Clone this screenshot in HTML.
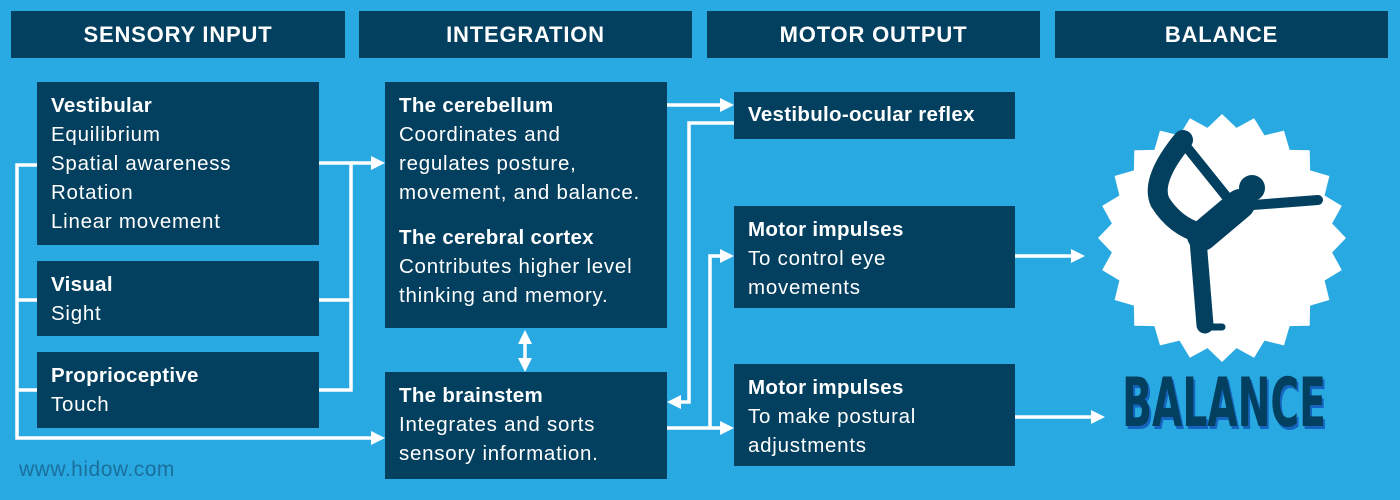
<!DOCTYPE html>
<html><head><meta charset="utf-8"><style>
*{margin:0;padding:0;box-sizing:border-box}
body{width:1400px;height:500px;background:#29a9e1;position:relative;overflow:hidden;font-family:"Liberation Sans",sans-serif;color:#fff}
.h{position:absolute;top:11px;height:47px;background:#03405f;font-weight:bold;font-size:22px;text-align:center;line-height:47px;letter-spacing:.8px}
.b{position:absolute;background:#03405f;padding:9px 14px;font-size:20.5px;line-height:29px;letter-spacing:.75px}
.b b{display:block;letter-spacing:.3px}
</style></head><body>
<div class="h" style="left:11px;width:334px">SENSORY INPUT</div>
<div class="h" style="left:359px;width:333px">INTEGRATION</div>
<div class="h" style="left:707px;width:333px">MOTOR OUTPUT</div>
<div class="h" style="left:1055px;width:333px">BALANCE</div>

<svg style="position:absolute;left:0;top:0" width="1400" height="500">
<defs><marker id="a" markerWidth="4" markerHeight="4" refX="2" refY="2" orient="auto-start-reverse" markerUnits="strokeWidth"><path d="M0,0 L4,2 L0,4 z" fill="#fff"/></marker></defs>
<g stroke="#fff" stroke-width="3.5" fill="none">
<path d="M37,165 H17 V438 H378" marker-end="url(#a)"/>
<path d="M17,300 H37 M17,390 H37"/>
<path d="M319,163 H351 V390 H319 M319,300 H351"/>
<path d="M351,163 H378" marker-end="url(#a)"/>
<path d="M525,337 V365" marker-end="url(#a)" marker-start="url(#a)"/>
<path d="M667,105 H727" marker-end="url(#a)"/>
<path d="M734,123 H689 V402 H674" marker-end="url(#a)"/>
<path d="M667,428 H727" marker-end="url(#a)"/>
<path d="M710,428 V256 H727" marker-end="url(#a)"/>
<path d="M1015,256 H1078" marker-end="url(#a)"/>
<path d="M1015,417 H1098" marker-end="url(#a)"/>
</g>
<polygon id="star" fill="#fff" points=""/>
<g fill="none" stroke="#03405f" stroke-linecap="round" stroke-linejoin="round">
<path d="M1183,140 Q1150,180 1160,202 Q1175,226 1200,233" stroke-width="20"/>
<path d="M1185,145 L1226,196" stroke-width="10"/>
<path d="M1202,236 L1240,204" stroke-width="30"/>
<path d="M1240,206 L1318,200" stroke-width="10"/>
<path d="M1198,240 L1205,325" stroke-width="17"/>
<path d="M1202,327 L1222,327" stroke-width="7"/>
</g>
<circle cx="1252" cy="188" r="13" fill="#03405f"/>
</svg>
<script>
(function(){var p=[],cx=1222,cy=238,n=24;for(var i=0;i<n*2;i++){var r=i%2?111:124,t=Math.PI*i/n-Math.PI/2;p.push((cx+r*Math.cos(t)).toFixed(1)+","+(cy+r*Math.sin(t)).toFixed(1));}document.getElementById("star").setAttribute("points",p.join(" "));})();
</script>

<div class="b" style="left:37px;top:82px;width:282px;height:163px"><b>Vestibular</b>Equilibrium<br>Spatial awareness<br>Rotation<br>Linear movement</div>
<div class="b" style="left:37px;top:261px;width:282px;height:75px"><b>Visual</b>Sight</div>
<div class="b" style="left:37px;top:352px;width:282px;height:76px"><b>Proprioceptive</b>Touch</div>
<div class="b" style="left:385px;top:82px;width:282px;height:246px"><b>The cerebellum</b>Coordinates and regulates posture, movement, and balance.<b style="margin-top:16px">The cerebral cortex</b>Contributes higher level thinking and memory.</div>
<div class="b" style="left:385px;top:372px;width:282px;height:107px"><b>The brainstem</b>Integrates and sorts sensory information.</div>
<div class="b" style="left:734px;top:92px;width:281px;height:47px;padding-top:8px"><b>Vestibulo-ocular reflex</b></div>
<div class="b" style="left:734px;top:206px;width:281px;height:102px"><b>Motor impulses</b>To control eye movements</div>
<div class="b" style="left:734px;top:364px;width:281px;height:102px"><b>Motor impulses</b>To make postural adjustments</div>

<div style="position:absolute;left:19px;top:458px;font-size:21px;color:#1a6f9c;letter-spacing:.5px">www.hidow.com</div>
<div style="position:absolute;left:1024px;top:366px;width:400px;text-align:center;font-family:'DejaVu Sans Condensed','DejaVu Sans',sans-serif;font-weight:bold;font-size:68px;line-height:76px;color:#03405f;text-shadow:3px 3px 0 #1565c0;transform:scaleX(0.64);transform-origin:center">BALANCE</div>
</body></html>
